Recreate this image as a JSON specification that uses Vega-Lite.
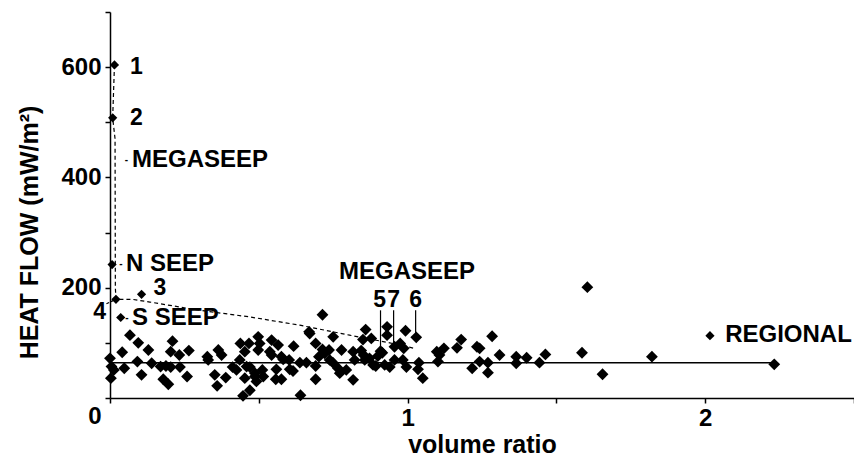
{
  "$schema": "https://vega.github.io/schema/vega-lite/v6.json",
  "width": 744,
  "height": 386,
  "autosize": "none",
  "padding": {"left": 110, "top": 12, "right": 0, "bottom": 59},
  "background": "white",
  "config": {
    "view": {"stroke": null},
    "font": "Liberation Sans",
    "axis": {"grid": false, "domainColor": "black", "domainWidth": 1.5, "tickColor": "black", "tickWidth": 1.5, "tickSize": 5, "labelColor": "black", "titleColor": "black", "labelFont": "Liberation Sans", "titleFont": "Liberation Sans", "labelFontWeight": "bold", "titleFontWeight": "bold", "labelFontSize": 24, "titleFontSize": 25}
  },
  "datasets": {
    "pts": [
      {"x": 0.067, "y": 114}, {"x": 0.095, "y": 100}, {"x": 0.129, "y": 87}, {"x": 0.210, "y": 103}, {"x": 0.204, "y": 84},
      {"x": 0.233, "y": 78}, {"x": 0.265, "y": 86}, {"x": 0.041, "y": 83}, {"x": 0.0, "y": 72}, {"x": 0.005, "y": 57},
      {"x": 0.013, "y": 51}, {"x": 0.003, "y": 36}, {"x": 0.048, "y": 54}, {"x": 0.092, "y": 66}, {"x": 0.106, "y": 42},
      {"x": 0.140, "y": 63}, {"x": 0.170, "y": 57}, {"x": 0.188, "y": 58}, {"x": 0.204, "y": 56}, {"x": 0.235, "y": 56},
      {"x": 0.179, "y": 34}, {"x": 0.196, "y": 25}, {"x": 0.259, "y": 39}, {"x": 0.327, "y": 75}, {"x": 0.330, "y": 69},
      {"x": 0.364, "y": 87}, {"x": 0.375, "y": 78}, {"x": 0.352, "y": 42}, {"x": 0.360, "y": 22}, {"x": 0.389, "y": 37},
      {"x": 0.412, "y": 56}, {"x": 0.425, "y": 51}, {"x": 0.438, "y": 99}, {"x": 0.453, "y": 84}, {"x": 0.459, "y": 57},
      {"x": 0.453, "y": 36}, {"x": 0.447, "y": 4}, {"x": 0.467, "y": 99}, {"x": 0.470, "y": 14}, {"x": 0.498, "y": 111},
      {"x": 0.503, "y": 99}, {"x": 0.487, "y": 39}, {"x": 0.492, "y": 30}, {"x": 0.512, "y": 51}, {"x": 0.543, "y": 105},
      {"x": 0.565, "y": 96}, {"x": 0.543, "y": 78}, {"x": 0.576, "y": 75}, {"x": 0.617, "y": 94}, {"x": 0.640, "y": 5},
      {"x": 0.671, "y": 117}, {"x": 0.691, "y": 99}, {"x": 0.714, "y": 151}, {"x": 0.750, "y": 111}, {"x": 0.537, "y": 84},
      {"x": 0.498, "y": 87}, {"x": 0.582, "y": 70}, {"x": 0.602, "y": 69}, {"x": 0.436, "y": 69}, {"x": 0.470, "y": 56},
      {"x": 0.487, "y": 45}, {"x": 0.515, "y": 39}, {"x": 0.559, "y": 52}, {"x": 0.557, "y": 34}, {"x": 0.576, "y": 34},
      {"x": 0.604, "y": 52}, {"x": 0.615, "y": 49}, {"x": 0.638, "y": 64}, {"x": 0.660, "y": 64}, {"x": 0.691, "y": 58},
      {"x": 0.691, "y": 34}, {"x": 0.702, "y": 75}, {"x": 0.721, "y": 81}, {"x": 0.714, "y": 88}, {"x": 0.736, "y": 87},
      {"x": 0.738, "y": 69}, {"x": 0.749, "y": 64}, {"x": 0.766, "y": 54}, {"x": 0.772, "y": 45}, {"x": 0.778, "y": 87},
      {"x": 0.794, "y": 51}, {"x": 0.817, "y": 33}, {"x": 0.817, "y": 84}, {"x": 0.822, "y": 69}, {"x": 0.844, "y": 86},
      {"x": 0.852, "y": 78}, {"x": 0.856, "y": 69}, {"x": 0.859, "y": 124}, {"x": 0.850, "y": 106}, {"x": 0.878, "y": 108},
      {"x": 0.872, "y": 72}, {"x": 0.884, "y": 60}, {"x": 0.893, "y": 58}, {"x": 0.900, "y": 76}, {"x": 0.915, "y": 82},
      {"x": 0.931, "y": 129}, {"x": 0.931, "y": 114}, {"x": 0.993, "y": 122}, {"x": 0.956, "y": 93}, {"x": 0.975, "y": 99},
      {"x": 0.987, "y": 90}, {"x": 0.956, "y": 69}, {"x": 0.940, "y": 56}, {"x": 0.923, "y": 60}, {"x": 0.909, "y": 85},
      {"x": 0.984, "y": 69}, {"x": 0.996, "y": 56}, {"x": 1.038, "y": 64}, {"x": 1.035, "y": 52}, {"x": 1.051, "y": 36},
      {"x": 1.098, "y": 84}, {"x": 1.107, "y": 78}, {"x": 1.102, "y": 66}, {"x": 1.122, "y": 90}, {"x": 1.166, "y": 91},
      {"x": 1.180, "y": 106}, {"x": 1.217, "y": 54}, {"x": 1.233, "y": 93}, {"x": 1.242, "y": 90}, {"x": 1.242, "y": 66},
      {"x": 1.270, "y": 64}, {"x": 1.270, "y": 46}, {"x": 1.284, "y": 112}, {"x": 1.309, "y": 78}, {"x": 1.365, "y": 75},
      {"x": 1.365, "y": 63}, {"x": 1.400, "y": 73}, {"x": 1.443, "y": 64}, {"x": 1.463, "y": 79}, {"x": 1.586, "y": 82},
      {"x": 1.604, "y": 201}, {"x": 1.655, "y": 43}, {"x": 1.821, "y": 75}, {"x": 2.232, "y": 61}, {"x": 1.029, "y": 110},
      {"x": 0.669, "y": 120}
    ],
    "special": [
      {"x": 0.015, "y": 604}, {"x": 0.009, "y": 508}, {"x": 0.007, "y": 242}, {"x": 0.020, "y": 179},
      {"x": 0.106, "y": 188}, {"x": 0.036, "y": 146}, {"x": 2.016, "y": 113}
    ],
    "regional": [{"x": 0, "y": 64}, {"x": 2.232, "y": 64}],
    "curve": [
      {"o": 1, "x": 0.015, "y": 604}, {"o": 2, "x": 0.009, "y": 508}, {"o": 3, "x": 0.017, "y": 470},
      {"o": 4, "x": 0.018, "y": 200}, {"o": 5, "x": 0.020, "y": 179}, {"o": 6, "x": 0.074, "y": 179},
      {"o": 7, "x": 0.134, "y": 174}, {"o": 8, "x": 0.302, "y": 159}, {"o": 9, "x": 0.470, "y": 147},
      {"o": 10, "x": 0.638, "y": 132}, {"o": 11, "x": 0.805, "y": 114}, {"o": 12, "x": 0.940, "y": 100},
      {"o": 13, "x": 1.023, "y": 90}
    ],
    "lead4": [{"x": -0.012, "y": 171}, {"x": 0.020, "y": 179}],
    "leaders": [
      {"x": 0.909, "y": 159, "y2": 87},
      {"x": 0.953, "y": 159, "y2": 96},
      {"x": 1.027, "y": 159, "y2": 114}
    ],
    "words": [
      {"x": 0.074, "y": 431, "t": "MEGASEEP"},
      {"x": 0.054, "y": 243, "t": "N SEEP"},
      {"x": 0.074, "y": 145, "t": "S SEEP"},
      {"x": 2.067, "y": 114, "t": "REGIONAL"}
    ],
    "centerwords": [
      {"x": 0.998, "y": 228, "t": "MEGASEEP"}
    ],
    "nums": [
      {"x": 0.067, "y": 601, "t": "1"},
      {"x": 0.067, "y": 507, "t": "2"},
      {"x": 0.146, "y": 199, "t": "3"}
    ],
    "cnums": [
      {"x": 0.906, "y": 177, "t": "5"},
      {"x": 0.953, "y": 177, "t": "7"},
      {"x": 1.027, "y": 177, "t": "6"}
    ],
    "rnums": [
      {"x": -0.013, "y": 156, "t": "4"}
    ],
    "dashes": [
      {"x": 0.055, "y": 431}, {"x": 0.037, "y": 243}, {"x": 0.057, "y": 145}
    ]
  },
  "layer": [
    {
      "data": {"name": "regional"},
      "mark": {"type": "line", "color": "black", "strokeWidth": 1.5},
      "encoding": {
        "x": {"field": "x", "type": "quantitative", "scale": {"domain": [0, 2.5], "nice": false},
          "axis": {"values": [0, 0.5, 1, 1.5, 2, 2.5], "labelExpr": "datum.value == 1 ? '1' : datum.value == 2 ? '2' : ''", "labelPadding": 3, "title": "volume ratio", "titleY": 54, "titleBaseline": "alphabetic"}},
        "y": {"field": "y", "type": "quantitative", "scale": {"domain": [0, 700], "nice": false},
          "axis": {"values": [0, 100, 200, 300, 400, 500, 600, 700], "labelExpr": "datum.value % 200 == 0 && datum.value < 700 ? datum.label : ''", "labelPadding": 4, "labelOffset": {"condition": {"test": "datum.value == 0", "value": 18}, "value": 0}, "title": "HEAT FLOW (mW/m²)", "titleX": -81, "titleY": 220, "titleAngle": 270, "titleAlign": "center", "titleBaseline": "middle"}}
      }
    },
    {
      "data": {"name": "curve"},
      "mark": {"type": "line", "color": "black", "strokeWidth": 1.2, "strokeDash": [4, 3]},
      "encoding": {
        "x": {"field": "x", "type": "quantitative"},
        "y": {"field": "y", "type": "quantitative"},
        "order": {"field": "o"}
      }
    },
    {
      "data": {"name": "lead4"},
      "mark": {"type": "line", "color": "black", "strokeWidth": 1.2, "strokeDash": [3, 2]},
      "encoding": {
        "x": {"field": "x", "type": "quantitative"},
        "y": {"field": "y", "type": "quantitative"}
      }
    },
    {
      "data": {"name": "leaders"},
      "mark": {"type": "rule", "color": "black", "strokeWidth": 1.2},
      "encoding": {
        "x": {"field": "x", "type": "quantitative"},
        "y": {"field": "y", "type": "quantitative"},
        "y2": {"field": "y2"}
      }
    },
    {
      "data": {"name": "pts"},
      "mark": {"type": "point", "shape": "diamond", "filled": true, "color": "black", "opacity": 1, "size": 140},
      "encoding": {
        "x": {"field": "x", "type": "quantitative"},
        "y": {"field": "y", "type": "quantitative"}
      }
    },
    {
      "data": {"name": "special"},
      "mark": {"type": "point", "shape": "diamond", "filled": true, "color": "black", "opacity": 1, "size": 85},
      "encoding": {
        "x": {"field": "x", "type": "quantitative"},
        "y": {"field": "y", "type": "quantitative"}
      }
    },
    {
      "data": {"name": "words"},
      "mark": {"type": "text", "align": "left", "baseline": "middle", "fontSize": 24, "fontWeight": "bold", "color": "black", "font": "Liberation Sans"},
      "encoding": {
        "x": {"field": "x", "type": "quantitative"},
        "y": {"field": "y", "type": "quantitative"},
        "text": {"field": "t"}
      }
    },
    {
      "data": {"name": "centerwords"},
      "mark": {"type": "text", "align": "center", "baseline": "middle", "fontSize": 24, "fontWeight": "bold", "color": "black", "font": "Liberation Sans"},
      "encoding": {
        "x": {"field": "x", "type": "quantitative"},
        "y": {"field": "y", "type": "quantitative"},
        "text": {"field": "t"}
      }
    },
    {
      "data": {"name": "nums"},
      "mark": {"type": "text", "align": "left", "baseline": "middle", "fontSize": 23, "fontWeight": "bold", "color": "black", "font": "Liberation Sans"},
      "encoding": {
        "x": {"field": "x", "type": "quantitative"},
        "y": {"field": "y", "type": "quantitative"},
        "text": {"field": "t"}
      }
    },
    {
      "data": {"name": "cnums"},
      "mark": {"type": "text", "align": "center", "baseline": "middle", "fontSize": 23, "fontWeight": "bold", "color": "black", "font": "Liberation Sans"},
      "encoding": {
        "x": {"field": "x", "type": "quantitative"},
        "y": {"field": "y", "type": "quantitative"},
        "text": {"field": "t"}
      }
    },
    {
      "data": {"name": "rnums"},
      "mark": {"type": "text", "align": "right", "baseline": "middle", "fontSize": 23, "fontWeight": "bold", "color": "black", "font": "Liberation Sans"},
      "encoding": {
        "x": {"field": "x", "type": "quantitative"},
        "y": {"field": "y", "type": "quantitative"},
        "text": {"field": "t"}
      }
    },
    {
      "data": {"name": "dashes"},
      "mark": {"type": "text", "align": "center", "baseline": "middle", "fontSize": 10, "fontWeight": "bold", "color": "black", "font": "Liberation Sans", "text": "-"},
      "encoding": {
        "x": {"field": "x", "type": "quantitative"},
        "y": {"field": "y", "type": "quantitative"}
      }
    }
  ]
}
